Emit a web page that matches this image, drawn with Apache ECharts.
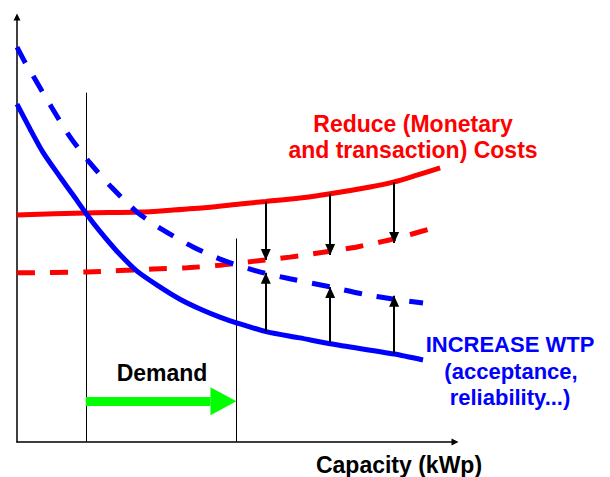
<!DOCTYPE html>
<html>
<head>
<meta charset="utf-8">
<title>Demand, costs and WTP</title>
<script src="https://cdn.jsdelivr.net/npm/echarts@6/dist/echarts.min.js"></script>
<style>
  html, body { margin: 0; padding: 0; background: #fff; }
  #chart { width: 610px; height: 477px; }
</style>
</head>
<body>
<div id="chart"></div>
<script>
// capacity on x (0-100), cost / value on y (0-100)
const wtpNow = [[0, 79.5], [3.0, 73.6], [5.9, 68.2], [9.8, 62.4], [12.8, 58.1], [15.9, 53.6], [18.9, 49.6], [22.8, 44.9],
  [27.4, 40.2], [32.6, 36.5], [37.2, 33.6], [41.8, 31.3], [46.3, 29.4], [50.9, 27.8], [57.1, 25.9], [64.6, 24.5],
  [71.5, 23.1], [86.1, 20.7], [92.7, 19.3]]
const wtpRaised = [[0, 92.9], [1.8, 89.4], [4.1, 85.4], [8.0, 78.6], [12.1, 71.8], [16.7, 65.6], [21.7, 59.8], [27.4, 54.1],
  [33.3, 49.9], [40.2, 45.9], [47.0, 42.8], [54.8, 40.2], [62.3, 38.4], [71.5, 36.5], [79.0, 34.8], [86.1, 33.6], [92.7, 32.7]]
const costNow = [[0, 53.4], [15.8, 53.9], [28.1, 54.1], [35.6, 54.6], [43.4, 55.2], [50.9, 56.0], [56.8, 56.6], [64.6, 57.4],
  [71.5, 58.4], [80.6, 60.0], [86.1, 61.2], [91.3, 62.8], [96.6, 64.5]]
const costReduced = [[0, 39.8], [16.0, 40.0], [31.1, 40.7], [38.8, 41.0], [46.3, 41.6], [53.9, 42.5], [62.3, 43.5],
  [71.5, 44.9], [77.6, 45.9], [86.1, 47.8], [95.9, 50.6]]

// vertical guides: x and how high they reach
const guideX = [15.9, 50.1]
const guideTop = [82.2, 47.9]

// shift arrows (x, start, tip)
const arrowX = [56.8, 71.5, 86.1]
const costFrom = [56.6, 58.4, 61.2]
const costTo = [42.8, 44.0, 46.8]
const wtpFrom = [25.9, 23.3, 20.7]
const wtpTo = [39.8, 36.5, 34.4]

// demand moves from the first guide to the second
const demandFrom = 15.7
const demandTo = 50.1
const demandLevel = 9.6

const X_MAX = 100
const Y_MAX = 100
const GRID = { left: 17, right: 155, top: 17, bottom: 35 }
const W = 610
const pxPerX = (W - GRID.left - GRID.right) / X_MAX

const RED = '#ff0000'
const BLUE = '#0000ff'
const GREEN = '#00ff00'
const FONT = 'bold 23px "Liberation Sans", Arial, sans-serif'
const FONT_BLUE = 'bold 22px "Liberation Sans", Arial, sans-serif'

// arrow head whose tip sits on the line end / whose base sits on the line end
const TIP_HEAD = 'path://M5,10L10,20L0,20ZM5,0'
const BASE_HEAD = 'path://M5,0L10,10L0,10ZM5,20'
const GREEN_HEAD_LEN = 26

const chart = echarts.init(document.getElementById('chart'), null, { renderer: 'svg' })

function curve(data, color, dashed) {
  return {
    type: 'line',
    data: data,
    smooth: 0.25,
    showSymbol: false,
    silent: true,
    lineStyle: { color: color, width: 5, type: dashed ? [18, 15] : 'solid', cap: 'butt' },
    z: 3
  }
}

function label(text, x, y, color, font) {
  return {
    type: 'text',
    x: x,
    y: y,
    style: { text: text, fill: color, font: font || FONT, align: 'center', verticalAlign: 'middle' }
  }
}

const shiftArrows = arrowX.map((x, i) => ({ coords: [[x, costFrom[i]], [x, costTo[i]]] }))
  .concat(arrowX.map((x, i) => ({ coords: [[x, wtpFrom[i]], [x, wtpTo[i]]] })))

chart.setOption({
  animation: false,
  backgroundColor: '#fff',
  grid: GRID,
  xAxis: {
    type: 'value',
    min: 0,
    max: X_MAX,
    axisLine: {
      onZero: false,
      symbol: ['none', 'triangle'],
      symbolSize: [7, 7],
      lineStyle: { color: '#000', width: 1.5 }
    },
    axisTick: { show: false },
    axisLabel: { show: false },
    splitLine: { show: false }
  },
  yAxis: {
    type: 'value',
    min: 0,
    max: Y_MAX,
    axisLine: {
      show: true,
      onZero: false,
      symbol: ['none', 'triangle'],
      symbolSize: [7, 7],
      lineStyle: { color: '#000', width: 1.5 }
    },
    axisTick: { show: false },
    axisLabel: { show: false },
    splitLine: { show: false }
  },
  series: [
    {
      type: 'lines',
      coordinateSystem: 'cartesian2d',
      symbol: 'none',
      silent: true,
      lineStyle: { color: '#000', width: 1, opacity: 1 },
      data: guideX.map((x, i) => ({ coords: [[x, 0], [x, guideTop[i]]] })),
      z: 1
    },
    curve(costNow, RED, false),
    curve(costReduced, RED, true),
    curve(wtpRaised, BLUE, true),
    curve(wtpNow, BLUE, false),
    {
      type: 'lines',
      coordinateSystem: 'cartesian2d',
      symbol: ['none', TIP_HEAD],
      symbolSize: [1, [10, 22]],
      silent: true,
      lineStyle: { color: '#000', width: 2, opacity: 1 },
      data: shiftArrows,
      z: 4
    },
    {
      type: 'lines',
      coordinateSystem: 'cartesian2d',
      symbol: ['none', BASE_HEAD],
      symbolSize: [1, [28, GREEN_HEAD_LEN * 2]],
      silent: true,
      lineStyle: { color: GREEN, width: 9, opacity: 1, cap: 'butt' },
      data: [{ coords: [[demandFrom, demandLevel], [demandTo - GREEN_HEAD_LEN / pxPerX, demandLevel]] }],
      z: 4
    }
  ],
  graphic: [
    label('Reduce (Monetary', 413, 124, RED),
    label('and transaction) Costs', 413, 150, RED),
    label('INCREASE WTP', 510, 344, BLUE, FONT_BLUE),
    label('(acceptance,', 511, 371, BLUE, FONT_BLUE),
    label('reliability...)', 510, 397, BLUE, FONT_BLUE),
    label('Demand', 162, 373, '#000'),
    label('Capacity (kWp)', 399, 465, '#000')
  ]
})
</script>
</body>
</html>
